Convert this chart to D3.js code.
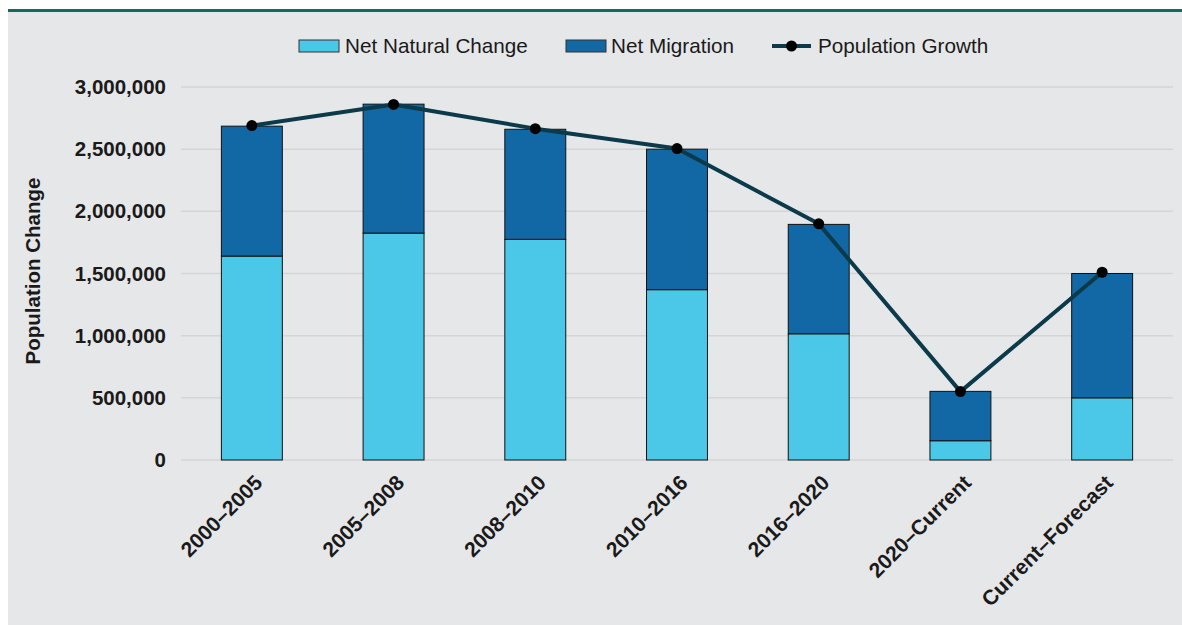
<!DOCTYPE html>
<html><head><meta charset="utf-8">
<script src="https://cdn.jsdelivr.net/npm/d3@7/dist/d3.min.js"></script>
<style>
html,body{margin:0;padding:0;background:#fff;}
svg{display:block;font-family:"Liberation Sans",Arial,sans-serif;}
</style></head>
<body><svg id="c" width="1182" height="625"></svg>
<script>
const categories = ["2000–2005","2005–2008","2008–2010","2010–2016","2016–2020","2020–Current","Current–Forecast"];
const netNatural = [1640000,1825000,1775000,1370000,1015000,155000,500000];
const netMigration = [1045000,1037000,885000,1130000,880000,397000,1000000];
const popGrowth = [2690000,2860000,2665000,2505000,1900000,550000,1510000];
const yTicks = [0,500000,1000000,1500000,2000000,2500000,3000000];
const seriesNames = ["Net Natural Change","Net Migration","Population Growth"];

(function(){
const svg = d3.select("#c");
const W = 1182, H = 625;
svg.append("rect").attr("x",8).attr("y",12).attr("width",W-8).attr("height",H-12).attr("fill","#e6e7e9");
svg.append("rect").attr("x",8).attr("y",9).attr("width",W-8).attr("height",3).attr("fill","#136b5e");

const pL = 181, pR = 1173, pT = 87, pB = 460;
const x = d3.scaleBand().domain(categories).range([pL,pR]).paddingInner(0.57).paddingOuter(0.285);
const y = d3.scaleLinear().domain([0,3000000]).range([pB,pT]);

svg.append("g").selectAll("line").data(yTicks).join("line")
  .attr("x1",pL).attr("x2",pR).attr("y1",d=>y(d)).attr("y2",d=>y(d))
  .attr("stroke","#d5d5d5").attr("stroke-width",1.5);

const yAxis = d3.axisLeft(y).tickValues(yTicks).tickFormat(d3.format(",")).tickSize(0).tickPadding(15);
const gy = svg.append("g").attr("transform",`translate(${pL},0)`).call(yAxis);
gy.select(".domain").remove();
gy.selectAll("text").attr("font-size",20.5).attr("font-weight","bold").attr("fill","#1a1a1a")
  .attr("font-family","'Liberation Sans',Arial,sans-serif");

const stack = categories.map((c,i)=>({c, n:netNatural[i], m:netMigration[i]}));
const gb = svg.append("g");
gb.selectAll("rect.n").data(stack).join("rect").attr("class","n")
  .attr("x",d=>x(d.c)).attr("width",x.bandwidth())
  .attr("y",d=>y(d.n)).attr("height",d=>y(0)-y(d.n))
  .attr("fill","#4bc8e8").attr("stroke","#111").attr("stroke-width",1);
gb.selectAll("rect.m").data(stack).join("rect").attr("class","m")
  .attr("x",d=>x(d.c)).attr("width",x.bandwidth())
  .attr("y",d=>y(d.n+d.m)).attr("height",d=>y(d.n)-y(d.n+d.m))
  .attr("fill","#1268a5").attr("stroke","#111").attr("stroke-width",1);

const cx = c => x(c)+x.bandwidth()/2;
const line = d3.line().x((d,i)=>cx(categories[i])).y(d=>y(d));
svg.append("path").datum(popGrowth).attr("d",line).attr("fill","none")
  .attr("stroke","#0b3a4a").attr("stroke-width",4).attr("stroke-linejoin","round");
svg.append("g").selectAll("circle").data(popGrowth).join("circle")
  .attr("cx",(d,i)=>cx(categories[i])).attr("cy",d=>y(d)).attr("r",5.5).attr("fill","#000");

const xAxis = d3.axisBottom(x).tickSize(0);
const gx = svg.append("g").attr("transform",`translate(0,${pB})`).call(xAxis);
gx.select(".domain").remove();
gx.selectAll("text").attr("font-size",21).attr("font-weight","bold").attr("fill","#1a1a1a")
  .attr("font-family","'Liberation Sans',Arial,sans-serif")
  .attr("text-anchor","end").attr("dy",0).attr("y",0)
  .attr("transform","translate(12,24) rotate(-45)");

svg.append("text").attr("transform",`translate(39.5,271) rotate(-90)`).attr("text-anchor","middle")
  .attr("font-size",20.5).attr("font-weight","bold").attr("fill","#1a1a1a").text("Population Change");

const lg = svg.append("g");
const ly = 46;
lg.append("rect").attr("x",299).attr("y",ly-6).attr("width",40).attr("height",12).attr("fill","#4bc8e8").attr("stroke","#333").attr("stroke-width",1);
lg.append("text").attr("x",345).attr("y",ly).attr("dy","0.35em").attr("font-size",20.7).attr("fill","#1a1a1a").text(seriesNames[0]);
lg.append("rect").attr("x",566).attr("y",ly-6).attr("width",40).attr("height",12).attr("fill","#1268a5").attr("stroke","#333").attr("stroke-width",1);
lg.append("text").attr("x",611).attr("y",ly).attr("dy","0.35em").attr("font-size",20.7).attr("fill","#1a1a1a").text(seriesNames[1]);
lg.append("line").attr("x1",772).attr("x2",811).attr("y1",ly).attr("y2",ly).attr("stroke","#0b3a4a").attr("stroke-width",4);
lg.append("circle").attr("cx",791.5).attr("cy",ly).attr("r",5.5).attr("fill","#000");
lg.append("text").attr("x",818).attr("y",ly).attr("dy","0.35em").attr("font-size",20.7).attr("fill","#1a1a1a").text(seriesNames[2]);
})();
</script></body></html>
